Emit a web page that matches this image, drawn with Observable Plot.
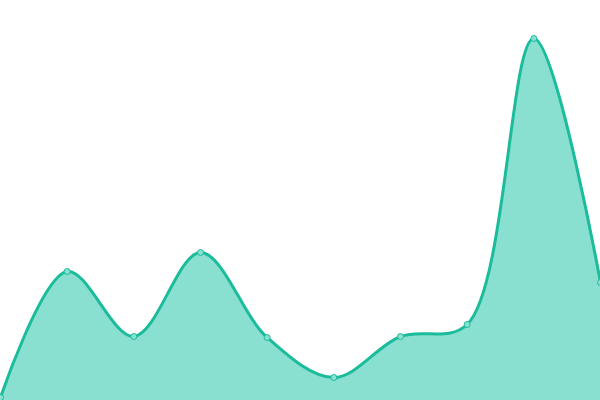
<!DOCTYPE html>
<html><head><meta charset="utf-8">
<script src="https://cdn.jsdelivr.net/npm/d3@7"></script>
<script src="https://cdn.jsdelivr.net/npm/@observablehq/plot@0.6"></script>
<style>body{margin:0;background:#fff}</style>
</head><body><div id="chart"></div>
<script>
const categories = [0,1,2,3,4,5,6,7,8,9];
const values = [3,129,64,148,63,23,64,76,362,118];
const data = categories.map((c,i)=>({x:c,y:values[i]}));
const chart = Plot.plot({
  width:600, height:400, margin:0,
  x:{domain:[0,9], range:[0,600], axis:null},
  y:{domain:[0,400], range:[400,0], axis:null},
  marks:[
    Plot.areaY(data,{x:"x",y:"y",curve:"catmull-rom",fill:"#8ae0d0"}),
    Plot.lineY(data,{x:"x",y:"y",curve:"catmull-rom",stroke:"#1abc9c",strokeWidth:3}),
    Plot.dot(data,{x:"x",y:"y",r:3,fill:"#8ae0d0",stroke:"#1abc9c",strokeWidth:1})
  ]
});
document.getElementById("chart").appendChild(chart);
</script></body></html>
